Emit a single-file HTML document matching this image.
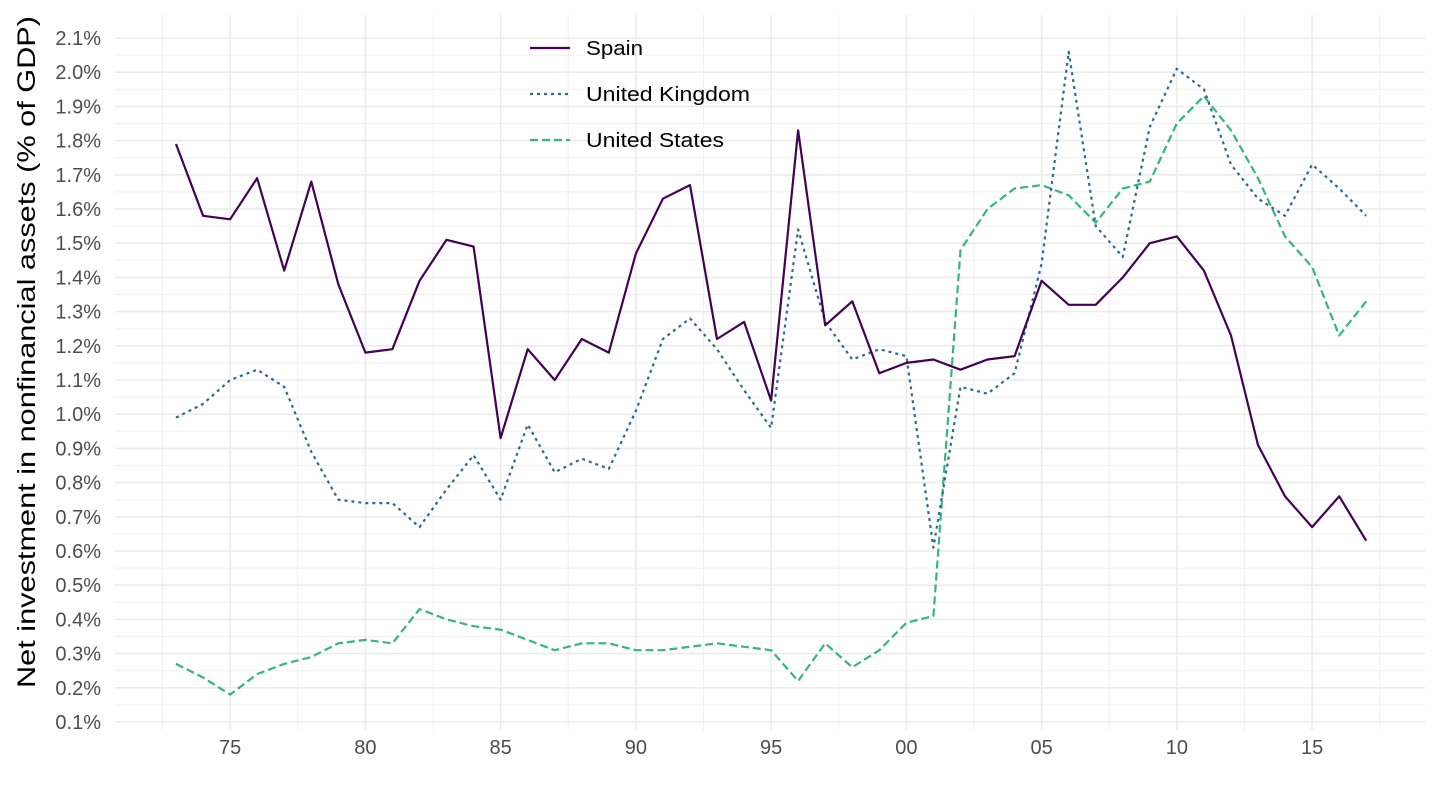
<!DOCTYPE html>
<html><head><meta charset="utf-8"><style>
html,body{margin:0;padding:0;background:#fff;}
svg{display:block;font-family:"Liberation Sans",Arial,sans-serif;}
</style></head><body>
<svg id="c" width="1440" height="810" xmlns="http://www.w3.org/2000/svg"></svg>
<script>
const s=document.getElementById('c');
const NS='http://www.w3.org/2000/svg';
function el(t,a,txt){const e=document.createElementNS(NS,t);for(const k in a)e.setAttribute(k,a[k]);if(txt!==undefined)e.textContent=txt;s.appendChild(e);return e;}
const X=y=>176+(y-1973)*27.05;
const Y=v=>722-(v-0.1)*342;
const L=115,R=1425,T=15,B=730;
for(let v=0.15;v<2.15;v+=0.1)el('line',{x1:L,x2:R,y1:Y(v),y2:Y(v),stroke:'#f0f0f0','stroke-width':1});
for(let yr=1972.5;yr<=2020;yr+=5)el('line',{x1:X(yr),x2:X(yr),y1:T,y2:B,stroke:'#f0f0f0','stroke-width':1});
for(let i=1;i<=21;i++){const v=i/10;el('line',{x1:L,x2:R,y1:Y(v),y2:Y(v),stroke:'#ebebeb','stroke-width':1.6});
el('text',{x:101,y:Y(v)+7,'text-anchor':'end','font-size':20,fill:'#4d4d4d'},v.toFixed(1)+'%');}
const lab=['75','80','85','90','95','00','05','10','15'];
lab.forEach((l,i)=>{const yr=1975+5*i;el('line',{x1:X(yr),x2:X(yr),y1:T,y2:B,stroke:'#ebebeb','stroke-width':1.6});
el('text',{x:X(yr),y:754,'text-anchor':'middle','font-size':20,fill:'#4d4d4d'},l);});
el('text',{transform:'translate(35,352) rotate(-90)','text-anchor':'middle','font-size':25,fill:'#000',textLength:672,lengthAdjust:'spacingAndGlyphs'},'Net investment in nonfinancial assets (% of GDP)');
const sp=[1.79,1.58,1.57,1.69,1.42,1.68,1.38,1.18,1.19,1.39,1.51,1.49,0.93,1.19,1.10,1.22,1.18,1.47,1.63,1.67,1.22,1.27,1.04,1.83,1.26,1.33,1.12,1.15,1.16,1.13,1.16,1.17,1.39,1.32,1.32,1.40,1.50,1.52,1.42,1.23,0.91,0.76,0.67,0.76,0.63];
const uk=[0.99,1.03,1.10,1.13,1.08,0.89,0.75,0.74,0.74,0.67,0.78,0.88,0.75,0.97,0.83,0.87,0.84,1.01,1.22,1.28,1.19,1.07,0.96,1.54,1.27,1.16,1.19,1.17,0.61,1.08,1.06,1.12,1.44,2.06,1.55,1.46,1.84,2.01,1.95,1.73,1.63,1.58,1.73,1.66,1.58];
const us=[0.27,0.23,0.18,0.24,0.27,0.29,0.33,0.34,0.33,0.43,0.40,0.38,0.37,0.34,0.31,0.33,0.33,0.31,0.31,0.32,0.33,0.32,0.31,0.22,0.33,0.26,0.31,0.39,0.41,1.48,1.60,1.66,1.67,1.64,1.56,1.66,1.68,1.85,1.93,1.83,1.69,1.52,1.43,1.23,1.33];
function line(d,c,da){el('polyline',{points:d.map((v,i)=>X(1973+i).toFixed(1)+','+Y(v).toFixed(1)).join(' '),fill:'none',stroke:c,'stroke-width':2.2,'stroke-dasharray':da,'stroke-linejoin':'round'});}
line(us,'#35b779','8,4');
line(uk,'#31688e','3,4');
line(sp,'#440154','none');
const lg=[['Spain','#440154','none',48,57],['United Kingdom','#31688e','3,4',94,164],['United States','#35b779','8,4',140,138]];
lg.forEach(([t,c,da,y,w])=>{el('line',{x1:530,x2:570,y1:y,y2:y,stroke:c,'stroke-width':2.2,'stroke-dasharray':da});
el('text',{x:586,y:y+7,'font-size':20,fill:'#000',textLength:w,lengthAdjust:'spacingAndGlyphs'},t);});
</script>
</body></html>
